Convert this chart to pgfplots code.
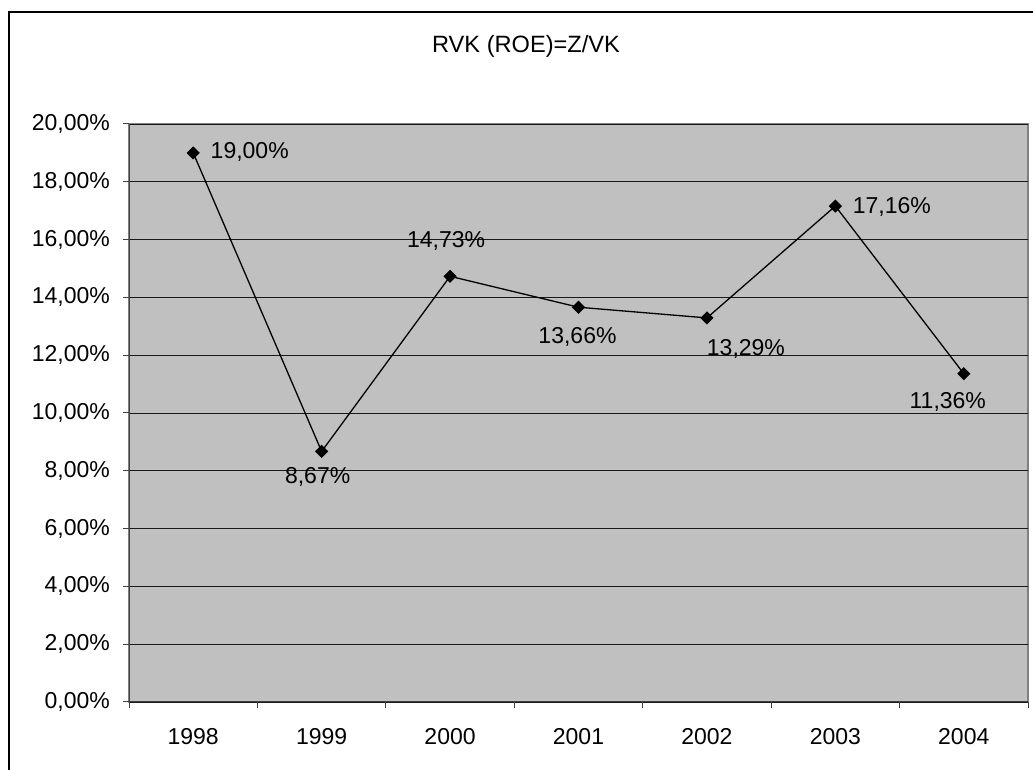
\documentclass[border=0pt]{standalone}
\usepackage{pgfplots}
\pgfplotsset{compat=1.18}
\usepackage{fontspec}
\setmainfont{Liberation Sans}
\definecolor{plotbg}{RGB}{192,192,192}
\definecolor{plotborder}{RGB}{128,128,128}
\pgfplotstableread{
x y dx dy
0 19.00 56.5 1
1 8.67 -4 -26
2 14.73 -4 35
3 13.66 -1 -30
4 13.29 39 -31
5 17.16 56.5 -1
6 11.36 -16 -28
}\roedata
\begin{document}
\begin{tikzpicture}[x=1pt,y=1pt,font=\fontsize{23pt}{27pt}\selectfont]
\path[use as bounding box] (0,0) rectangle (1033,770);
\draw[line width=2pt] (9,0) -- (9,758) -- (1034,758);
\node[anchor=center, inner sep=0pt, font=\fontsize{23.6pt}{28pt}\selectfont] at (526,724) {RVK (ROE)=Z/VK};
\begin{axis}[
  at={(129pt,68pt)}, anchor=south west, scale only axis,
  width=899pt, height=578pt,
  xmin=-0.5, xmax=6.5, ymin=0, ymax=20,
  xtick={-0.5,0.5,...,6.5}, xticklabels={},
  extra x ticks={0,1,2,3,4,5,6},
  extra x tick labels={1998,1999,2000,2001,2002,2003,2004},
  extra x tick style={major tick length=0pt, xticklabel style={anchor=north, inner sep=0pt, yshift=-26pt}},
  ytick={0,2,...,20},
  tick align=outside, major tick length=6pt,
  tick style={black!75, line width=1pt},
  ymajorgrids, major grid style={black!90, line width=0.9pt},
  axis x line*=bottom, axis y line*=left,
  axis line style={black!75, line width=1pt},
  axis background/.style={fill=plotbg, draw=plotborder, line width=1.2pt},
  /pgf/number format/assume math mode=true,
  yticklabel={\pgfmathprintnumber[fixed,fixed zerofill,precision=2,use comma]{\tick}\%},
  yticklabel style={anchor=east, inner sep=0pt, xshift=-13pt},
  tick label style={font=\fontsize{23pt}{27pt}\selectfont},
]
\addplot[black, line width=1.3pt, mark=square*, mark size=4pt,
  mark options={rotate=45, solid, fill=black},
  point meta=y,
  visualization depends on={\thisrow{dx} \as \dx},
  visualization depends on={\thisrow{dy} \as \dy},
  nodes near coords={\pgfmathprintnumber[fixed,fixed zerofill,precision=2,use comma]{\pgfplotspointmeta}\%},
  nodes near coords style={anchor=center, inner sep=0pt, xshift=\dx pt, yshift=\dy pt, font=\fontsize{23pt}{27pt}\selectfont},
] table[x=x, y=y] {\roedata};
\end{axis}
\end{tikzpicture}
\end{document}
